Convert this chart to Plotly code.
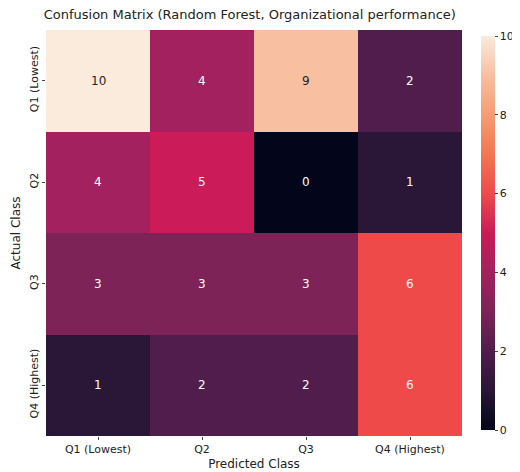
import plotly.graph_objects as go

classes = ["Q1 (Lowest)", "Q2", "Q3", "Q4 (Highest)"]
matrix = [[10, 4, 9, 2],
          [4, 5, 0, 1],
          [3, 3, 3, 6],
          [1, 2, 2, 6]]

rocket = [[0.0, "#03051A"], [0.1, "#2A1636"], [0.2, "#501D4C"], [0.3, "#7D2358"],
          [0.4, "#A3215E"], [0.5, "#CB1B58"], [0.6, "#EF4A4A"], [0.7, "#F37651"],
          [0.8, "#F69C73"], [0.9, "#F8BFA0"], [1.0, "#FAEBDD"]]

fig = go.Figure(go.Heatmap(
    z=matrix, x=classes, y=classes, colorscale=rocket, zmin=0, zmax=10,
    colorbar=dict(thickness=14, len=1.02, y=0.5, yanchor="middle", x=1.045, xpad=0,
                  outlinewidth=0, tickvals=list(range(0, 11, 2)), ticks="outside",
                  ticklen=3, tickfont=dict(size=11, color="#222"))))

ann = []
for i, row in enumerate(matrix):
    for j, v in enumerate(row):
        ann.append(dict(x=classes[j], y=classes[i], text=str(v), showarrow=False,
                        font=dict(size=12, color="#262626" if v >= 8 else "white")))
fig.update_layout(
    annotations=ann,
    width=520, height=472,
    margin=dict(l=38, r=66, t=22, b=44),
    paper_bgcolor="white", plot_bgcolor="white",
    font=dict(family="DejaVu Sans", color="#222"),
    title=dict(text="Confusion Matrix (Random Forest, Organizational performance)",
               x=0.465, xanchor="center", y=0.995, yanchor="top", font=dict(size=13)),
    xaxis=dict(title=dict(text="Predicted Class", font=dict(size=12), standoff=4),
               tickfont=dict(size=11), ticks="outside", ticklen=3, showgrid=False,
               automargin=False),
    yaxis=dict(title=dict(text="Actual Class", font=dict(size=12), standoff=4),
               tickfont=dict(size=11), ticks="outside", ticklen=3, showgrid=False,
               autorange="reversed", tickangle=-90, automargin=False),
)
fig.write_html("out.html")
